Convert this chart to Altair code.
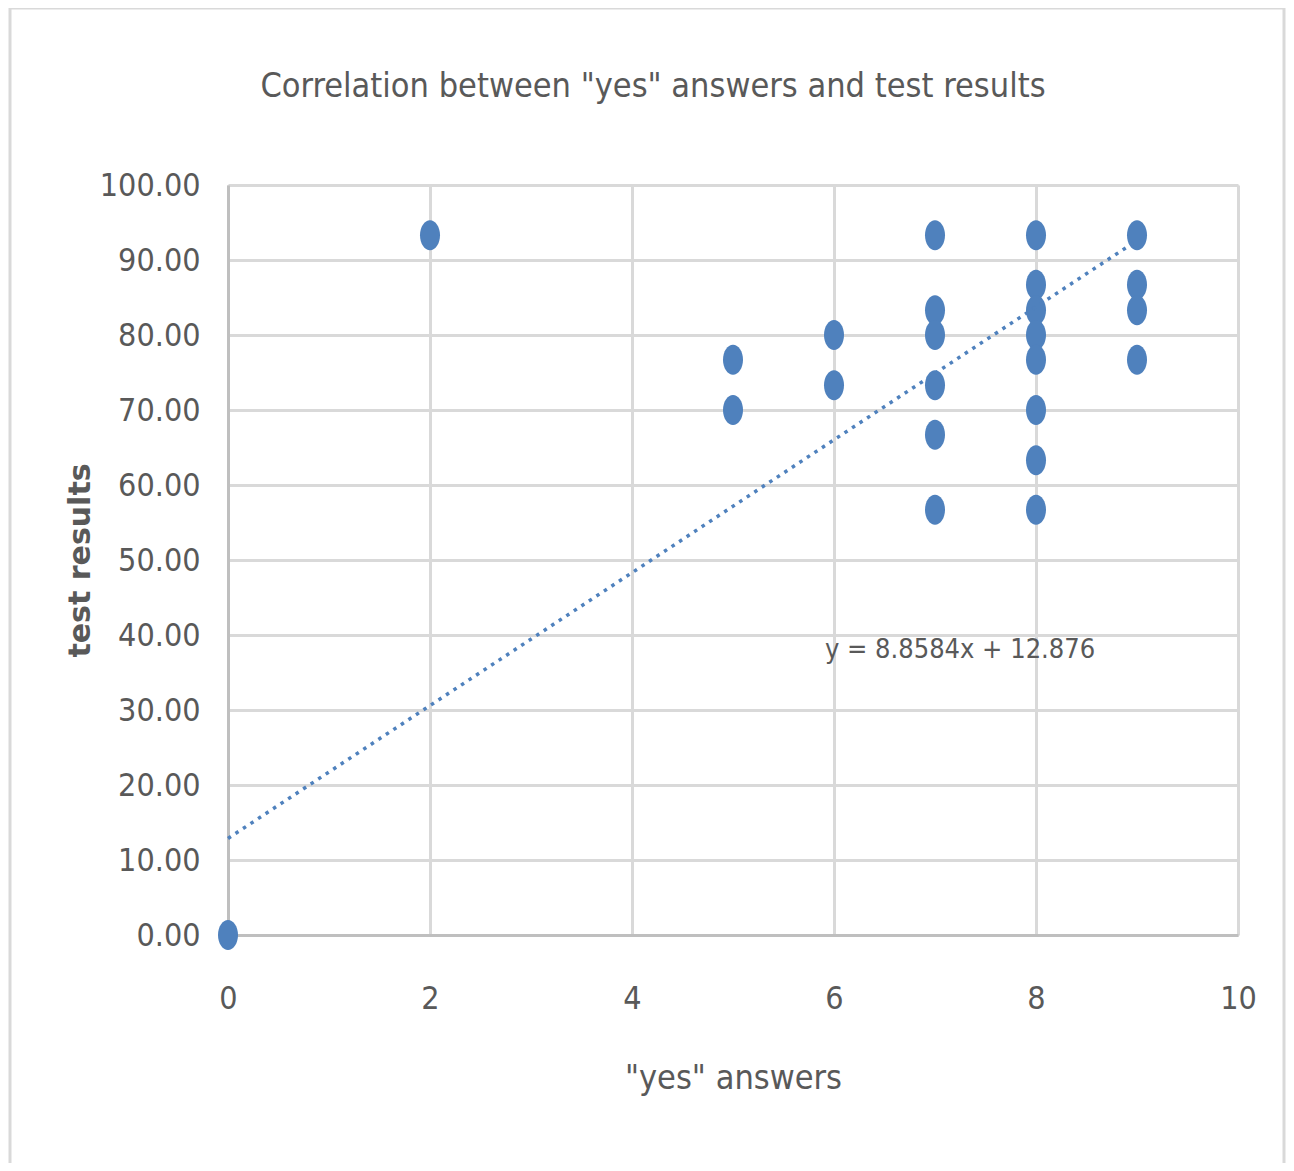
import altair as alt
import pandas as pd

# data
yes_answers = [0, 2, 5, 5, 6, 6, 7, 7, 7, 7, 7, 7, 8, 8, 8, 8, 8, 8, 8, 8, 9, 9, 9, 9]
test_results = [0.0, 93.3, 76.7, 70.0, 80.0, 73.3,
                93.3, 83.3, 80.0, 73.3, 66.7, 56.7,
                93.3, 86.7, 83.3, 80.0, 76.7, 70.0, 63.3, 56.7,
                93.3, 86.7, 83.3, 76.7]
trend_x = [0, 9]
trend_y = [12.876, 92.602]
trend_label = ["y = 8.8584x + 12.876"]
label_x = [5.91]
label_y = [38.0]
chart_title = ['Correlation between "yes" answers and test results']

FONT = "DejaVu Sans Condensed, Liberation Sans Narrow, Liberation Sans, sans-serif"
GREY = "#595959"
BLUE = "#4F81BD"

pts = pd.DataFrame({"x": yes_answers, "y": test_results})
trend = pd.DataFrame({"x": trend_x, "y": trend_y})
lab = pd.DataFrame({"x": label_x, "y": label_y, "t": trend_label})
ttl = pd.DataFrame({"t": chart_title})

xs = alt.Scale(domain=[0, 10], nice=False, zero=True)
ys = alt.Scale(domain=[0, 100], nice=False)

x_axis = alt.Axis(values=[0, 2, 4, 6, 8, 10], format="d", grid=True,
                  gridColor="#d9d9d9", gridWidth=3, domainColor="#bfbfbf",
                  domainWidth=3, ticks=False, labelPadding=48, labelFontSize=32,
                  labelColor=GREY, labelFont=FONT, labelFlush=False,
                  title='"yes" answers', titleFont=FONT, titleFontSize=34,
                  titleFontWeight="normal", titleColor=GREY,
                  titleX=505, titleY=143, titleBaseline="middle", titleAlign="center")
y_axis = alt.Axis(values=list(range(0, 101, 10)), format=".2f", grid=True,
                  gridColor="#d9d9d9", gridWidth=3, domainColor="#bfbfbf",
                  domainWidth=3, ticks=False, labelPadding=28, labelFontSize=32,
                  labelColor=GREY, labelFont=FONT, labelFlush=False,
                  title="test results", titleFont="DejaVu Sans, sans-serif",
                  titleFontSize=30, titleFontWeight="bold", titleColor=GREY,
                  titleAngle=-90, titleX=-148, titleY=375,
                  titleBaseline="middle", titleAlign="center")

frame = alt.Chart(ttl).mark_rect(fillOpacity=0, stroke="#d9d9d9", strokeWidth=3).encode(
    x=alt.value(-218), x2=alt.value(1056), y=alt.value(-177), y2=alt.value(1000)
)

title = alt.Chart(ttl).mark_text(align="center", baseline="middle", font=FONT,
                                 fontSize=34, color=GREY).encode(
    x=alt.value(425), y=alt.value(-98), text="t:N"
)

points = alt.Chart(pts).mark_point(
    shape="M0,-1 A0.667,1 0 1,1 0,1 A0.667,1 0 1,1 0,-1 Z",
    filled=True, size=900, color=BLUE, opacity=1,
).encode(
    x=alt.X("x:Q", scale=xs, axis=x_axis),
    y=alt.Y("y:Q", scale=ys, axis=y_axis),
)

line = alt.Chart(trend).mark_line(color=BLUE, strokeWidth=3.5, strokeDash=[3.5, 5.5]).encode(
    x=alt.X("x:Q", scale=xs), y=alt.Y("y:Q", scale=ys)
)

text = alt.Chart(lab).mark_text(align="left", baseline="middle", font=FONT,
                                fontSize=27, color=GREY).encode(
    x=alt.X("x:Q", scale=xs), y=alt.Y("y:Q", scale=ys), text="t:N"
)

chart = alt.layer(frame, points, line, text, title).properties(
    width=1010, height=750,
    autosize=alt.AutoSizeParams(type="none"),
    padding={"left": 220, "top": 177, "right": 48, "bottom": 228},
).configure_view(stroke=None).configure(background="white")

chart.save("out.html", embed_options={"renderer": "svg", "actions": False})
